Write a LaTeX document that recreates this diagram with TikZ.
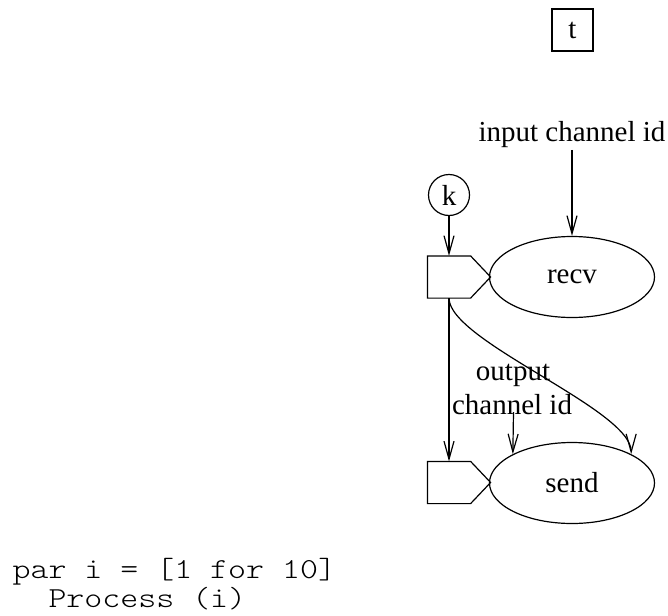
\documentclass[tikz,border=0pt]{standalone}
\usepackage{fontspec}
\setmainfont{Liberation Serif}
\setmonofont[FakeStretch=1.18]{Latin Modern Mono Light}
\usetikzlibrary{arrows.meta,shapes.geometric}

\tikzset{
  every node/.style={font=\fontsize{29}{34}\selectfont},
  lbl/.style={inner sep=2pt},
  proc/.style={draw, ellipse, minimum width=165pt, minimum height=81pt, inner sep=0pt},
  port/.style={minimum width=42pt, minimum height=41pt, inner sep=0pt},
  arr/.style={-{Straight Barb[length=18pt,width=10pt]}},
  codeline/.style={anchor=base west, inner sep=0pt, font=\ttfamily\fontsize{29}{29}\selectfont},
}

% draw the pentagonal port outline of a named port node
\newcommand{\portoutline}[1]{%
  \draw (#1.north west) -- (#1.north east) -- ([xshift=20pt]#1.east)
        -- (#1.south east) -- (#1.south west) -- cycle;}

\begin{document}
\begin{tikzpicture}[x=1pt, y=-1pt, line width=1.2pt]
  \useasboundingbox (0,0) rectangle (668,615);

  % timer
  \node[draw, minimum width=41pt, minimum height=42pt, inner sep=0pt] (t) at (572.5,30) {t};

  % receive side
  \node[lbl, anchor=base] (inlbl) at (572,141) {input channel id};
  \node[draw, circle, minimum size=41pt, inner sep=0pt] (k) at (449,195) {k};
  \node[port] (rp) at (449,277) {};
  \portoutline{rp}
  \node[proc] (recv) at (572,277) {recv};

  % send side
  \node[port] (sp) at (449,482.5) {};
  \portoutline{sp}
  \node[proc] (send) at (572,483) {send};
  \node[lbl, anchor=base] (outlbl1) at (513,380) {output};
  \node[lbl, anchor=base] (outlbl2) at (512,414) {channel id};
  \coordinate (outsrc) at (513.5,412);

  % connectors
  \draw[arr] (inlbl.south) -- (recv.north);
  \draw[arr] (k.south) -- (rp.north);
  \draw[arr] (rp.south) -- (sp.north);
  \draw[arr] (rp.south) .. controls ([yshift=-43pt]rp.south) and ([yshift=45pt]send.26) .. (send.26);
  \draw[arr] (outsrc) -- (send.154);

  % replication header
  \node[codeline] (code1) at (12,578) {par i = [1 for 10]};
  \node[codeline] (code2) at (12,607) {\phantom{xx}Process (i)};
\end{tikzpicture}
\end{document}
